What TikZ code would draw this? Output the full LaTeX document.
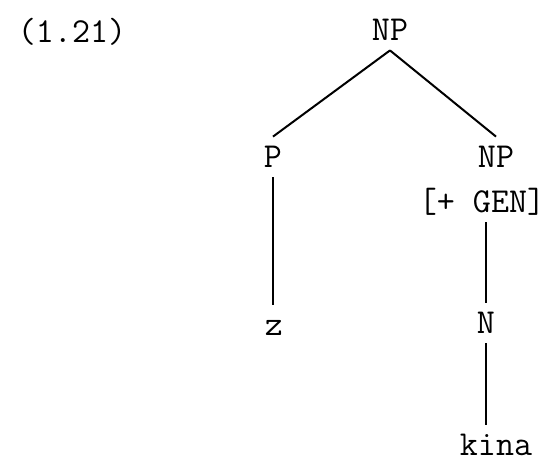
\documentclass[tikz,border=0pt]{standalone}
\usepackage{fontspec}
\usetikzlibrary{positioning}

\begin{document}
\begin{tikzpicture} [
          x=0.5pt, y=-0.5pt,
          tnode/.style = {font=\ttfamily\fontsize{17.5}{20}\selectfont, anchor=base,
                          text height=10pt, text depth=0pt, inner sep=5pt},
          branch/.style = {line width=1pt}
          ]
          \useasboundingbox (0,0) rectangle (556,462);
          \node[tnode] (ex) at (72,42) {(1.21)};
          \node[tnode] (np0) at (390,40) {NP};
          \node[tnode] (p) at (273,167) {P};
          \node[tnode] (np1) at (496,167) {NP};
          \node[tnode] (gen) at (482,212) {[+ GEN]};
          \node[tnode] (z) at (274,335) {z};
          \node[tnode] (n) at (486,333) {N};
          \node[tnode] (kina) at (496,455) {kina};
          \draw[branch] (np0.south) -- (p.north);
          \draw[branch] (np0.south) -- (np1.north);
          \draw[branch] (p.south) -- (z.north -| p);
          \draw[branch] (gen.south -| n) -- (n.north);
          \draw[branch] (n.south) -- (kina.north -| n);
        \end{tikzpicture}
\end{document}
